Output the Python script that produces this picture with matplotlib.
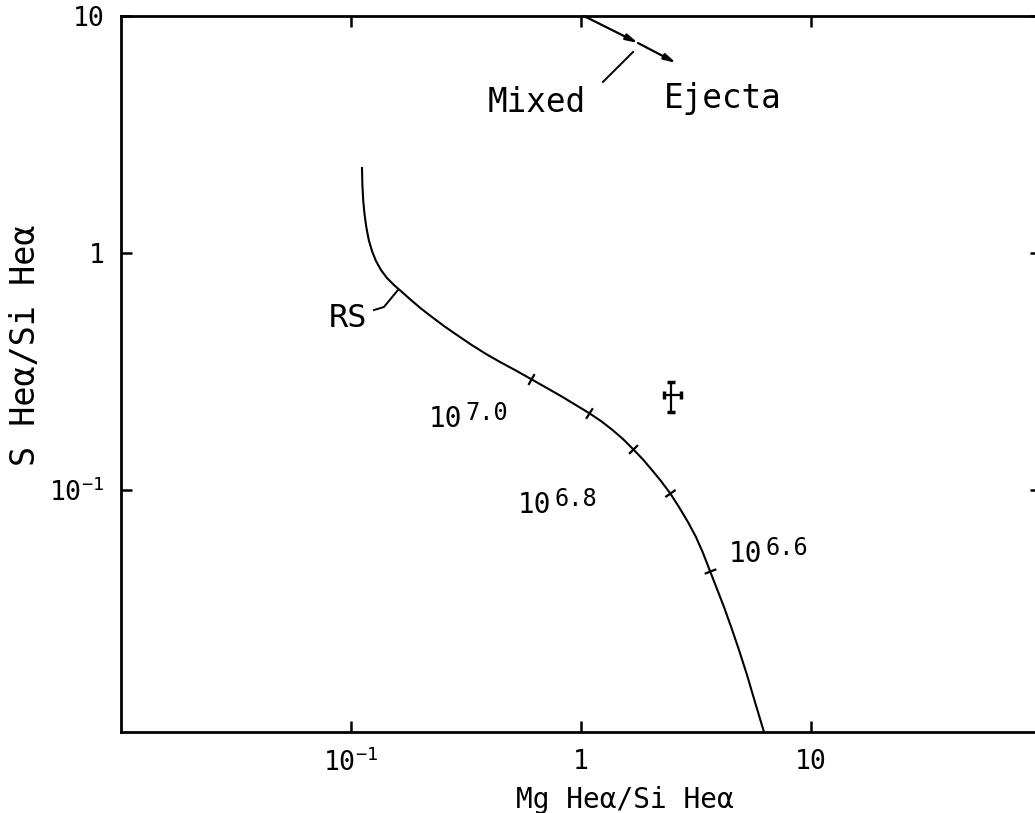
import numpy as np
import matplotlib
matplotlib.use("Agg")
import matplotlib.pyplot as plt

plt.rcParams["font.family"] = ["DejaVu Sans Mono", "DejaVu Sans"]
plt.rcParams["mathtext.fontset"] = "custom"
plt.rcParams["mathtext.rm"] = "DejaVu Sans Mono"
plt.rcParams["mathtext.it"] = "DejaVu Sans Mono"

# Reverse-shock (RS) model track: Mg Heα/Si Heα vs S Heα/Si Heα
rs_mg_si = [0.11163, 0.11208, 0.11298, 0.11446, 0.11654, 0.11949, 0.12338, 0.12843,
            0.13501, 0.14337, 0.15377, 0.16665, 0.18233, 0.20151, 0.22503, 0.25367,
            0.28892, 0.33237, 0.38637, 0.44893, 0.52162, 0.60608, 0.70425, 0.81833,
            0.94169, 1.08339, 1.22201, 1.36434, 1.52263, 1.68303, 1.86074, 2.03577,
            2.22752, 2.43729, 2.66684, 2.91806, 3.16228, 3.39223, 3.63845, 3.90248,
            4.18573, 4.51184, 4.86403, 5.27040, 5.70790, 6.24577]
rs_s_si = [2.2846, 1.9361, 1.6738, 1.4607, 1.2873, 1.1347, 1.0196, 0.9252,
           0.8478, 0.7844, 0.7327, 0.6846, 0.6332, 0.5832, 0.5369, 0.4919,
           0.4508, 0.4111, 0.3749, 0.3451, 0.3192, 0.2940, 0.2707, 0.2492,
           0.2295, 0.2113, 0.1954, 0.1799, 0.1641, 0.1489, 0.1345, 0.1214,
           0.1091, 0.09713, 0.08478, 0.07327, 0.06332, 0.05423, 0.04553, 0.03822,
           0.03209, 0.02617, 0.02113, 0.01658, 0.01275, 0.009526]

# Temperature marks along the track (log T = 7.0, 6.9, 6.8, 6.7, 6.6)
temp_idx = [21, 25, 29, 33, 38]
temp_labels = [("7.0", 0.2184, 0.1845), ("6.8", 0.532, 0.080), ("6.6", 4.40, 0.0497)]

# Observed ratio with uncertainties
obs_x, obs_y = 2.46, 0.252
obs_xlo, obs_xhi = 2.30, 2.72
obs_ylo, obs_yhi = 0.2133, 0.2856

# Mixed -> Ejecta direction arrow
arrow_start = (1.03, 10.0)
arrow_mid = (1.77, 7.69)
arrow_end = (2.59, 6.34)

x_ticks = [0.1, 1, 10]
x_ticklabels = [r"$\mathregular{10^{-1}}$", "1", "10"]
y_ticks = [0.1, 1, 10]
y_ticklabels = [r"$\mathregular{10^{-1}}$", "1", "10"]

W, H = 1035, 813
fig = plt.figure(figsize=(W / 100, H / 100), dpi=100)
left, right, top, bottom = 121, 1041, 16, 732
ax = fig.add_axes([left / W, 1 - bottom / H, (right - left) / W, (bottom - top) / H])
ax.set_xscale("log")
ax.set_yscale("log")
ax.set_xlim(0.01, 100)
ax.set_ylim(0.00953, 10)

for s in ax.spines.values():
    s.set_linewidth(2.0)

ax.xaxis.set_major_locator(matplotlib.ticker.FixedLocator(x_ticks))
ax.xaxis.set_major_formatter(matplotlib.ticker.FixedFormatter(x_ticklabels))
ax.yaxis.set_major_locator(matplotlib.ticker.FixedLocator(y_ticks))
ax.yaxis.set_major_formatter(matplotlib.ticker.FixedFormatter(y_ticklabels))
ax.xaxis.set_minor_locator(matplotlib.ticker.NullLocator())
ax.yaxis.set_minor_locator(matplotlib.ticker.NullLocator())
ax.tick_params(which="major", direction="in", length=8, width=1.8,
               top=True, right=True, labelsize=19)
ax.tick_params(axis="x", pad=12)
ax.tick_params(axis="y", pad=12)

ax.set_xlabel("Mg Heα/Si Heα", fontsize=20)
ax.xaxis.set_label_coords((625 - left) / (right - left), -(800 - bottom) / (bottom - top))
ax.xaxis.label.set_va("center")
ax.set_ylabel("S Heα/Si Heα", fontsize=24)
ax.yaxis.set_label_coords(-(left - 26) / (right - left), (bottom - 345) / (bottom - top))
ax.yaxis.label.set_va("center")

# RS track
ax.plot(rs_mg_si, rs_s_si, color="black", lw=1.5, solid_joinstyle="round")

# Temperature marks perpendicular to the track
fig.canvas.draw()
pts = ax.transData.transform(np.column_stack([rs_mg_si, rs_s_si]))
for i in temp_idx:
    d = pts[i + 1] - pts[i - 1]
    ang = np.degrees(np.arctan2(d[1], d[0]))
    ax.plot(rs_mg_si[i], rs_s_si[i], marker=(2, 0, ang), ms=9, mew=1.6,
            color="black", linestyle="none")

for exp, lx, ly in temp_labels:
    t = ax.text(lx, ly, "10", fontsize=20, ha="left", va="baseline")
    ax.annotate(exp, xy=(1, 0), xycoords=t, xytext=(2, 9),
                textcoords="offset points", fontsize=17, ha="left", va="baseline")

# Observation
ax.errorbar(obs_x, obs_y,
            xerr=[[obs_x - obs_xlo], [obs_xhi - obs_x]],
            yerr=[[obs_y - obs_ylo], [obs_yhi - obs_y]],
            fmt="none", ecolor="black", elinewidth=1.6, capsize=3, capthick=2.5)

# RS label with leader
ax.text(0.0802, 0.487, "RS", fontsize=23, ha="left", va="baseline")
ax.plot([0.1259, 0.1391, 0.1600], [0.5747, 0.592, 0.698], color="black", lw=1.4)

# Mixed / Ejecta arrow
arrow_kw = dict(arrowstyle="-|>,head_length=0.7,head_width=0.18", color="black",
                lw=1.6, shrinkA=0, shrinkB=0)
ax.annotate("", xy=arrow_mid, xytext=arrow_start, arrowprops=arrow_kw,
            annotation_clip=False)
ax.annotate("", xy=arrow_end, xytext=arrow_mid, arrowprops=arrow_kw,
            annotation_clip=False)
ax.plot([1.684, 1.246], [7.05, 5.27], color="black", lw=1.4)
ax.text(0.394, 3.94, "Mixed", fontsize=23.5, ha="left", va="baseline")
ax.text(2.296, 4.09, "Ejecta", fontsize=23.5, ha="left", va="baseline")

fig.savefig("out.png", dpi=100)
